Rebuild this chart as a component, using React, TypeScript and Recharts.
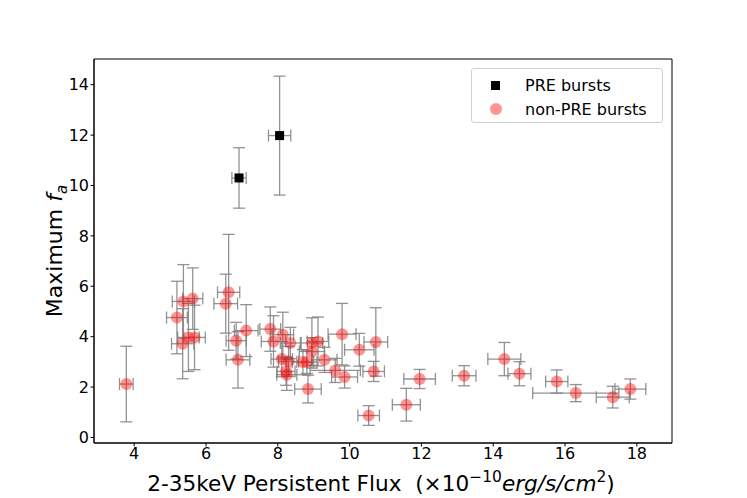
import React from 'react'
import {
  ScatterChart, Scatter, XAxis, YAxis, ErrorBar, ReferenceArea, Label,
} from 'recharts'

// non-PRE bursts
const nonPreFlux = [
  3.78, 5.19, 5.37, 5.63, 5.35, 5.51, 5.68, 6.63, 6.55, 6.84, 6.89, 7.12,
  7.79, 7.88, 8.14, 8.35, 8.11, 8.30, 8.23, 8.25, 8.70, 8.81, 8.84, 8.95,
  8.95, 9.12, 9.30, 9.60, 9.86, 9.79, 10.27, 10.73, 10.67, 10.53, 11.58,
  11.95, 13.19, 14.31, 14.73, 15.77, 16.30, 17.33, 17.82,
]
const nonPreFa = [
  2.12, 4.76, 5.40, 5.51, 3.72, 3.97, 3.97, 5.76, 5.31, 3.84, 3.08, 4.24,
  4.30, 3.81, 4.08, 3.75, 3.11, 3.02, 2.62, 2.49, 2.99, 2.99, 1.92, 3.41,
  3.75, 3.81, 3.08, 2.66, 2.40, 4.10, 3.48, 3.79, 2.62, 0.87, 1.30,
  2.32, 2.45, 3.11, 2.53, 2.22, 1.76, 1.60, 1.92,
]
const nonPreFluxErr = [
  0.19, 0.29, 0.31, 0.28, 0.31, 0.30, 0.30, 0.31, 0.33, 0.28, 0.33, 0.33,
  0.29, 0.34, 0.30, 0.28, 0.30, 0.28, 0.25, 0.28, 0.30, 0.28, 0.37, 0.35,
  0.30, 0.30, 0.35, 0.70, 0.36, 0.39, 0.41, 0.33, 0.30, 0.30, 0.39,
  0.44, 0.33, 0.46, 0.32, 0.31, 1.20, 0.46, 0.43,
]
const nonPreFaErr = [
  1.50, 1.44, 1.46, 1.22, 1.39, 1.35, 1.28, 2.30, 1.17, 0.73, 1.12, 1.03,
  0.88, 1.02, 0.89, 0.62, 0.70, 0.60, 0.55, 0.62, 0.50, 0.45, 0.55, 0.55,
  1.00, 0.97, 0.50, 0.48, 0.44, 1.22, 0.65, 1.36, 0.40, 0.39, 0.65,
  0.38, 0.40, 0.66, 0.48, 0.46, 0.34, 0.43, 0.40,
]

// PRE bursts
const preFlux = [6.92, 8.05]
const preFa = [10.30, 11.98]
const preFluxErr = [0.20, 0.31]
const preFaErr = [1.20, 2.36]

const xTicks = [4, 6, 8, 10, 12, 14, 16, 18]
const yTicks = [0, 2, 4, 6, 8, 10, 12, 14]

const nonPre = nonPreFlux.map((x, i) => ({
  x, y: nonPreFa[i], ex: nonPreFluxErr[i], ey: nonPreFaErr[i],
}))
const pre = preFlux.map((x, i) => ({
  x, y: preFa[i], ex: preFluxErr[i], ey: preFaErr[i],
}))

const FONT = 'DejaVu Sans, sans-serif'
const BAR = { stroke: '#808080', strokeWidth: 1.3, strokeOpacity: 0.85 }
const PINK = 'rgba(255,0,0,0.42)'

const Dot = (p: any) => (
  <circle cx={p.cx} cy={p.cy} r={6} fill={PINK} />
)
const Sq = (p: any) => (
  <rect x={p.cx - 4.5} y={p.cy - 4.5} width={9} height={9} fill="#000" />
)
const Nothing = () => <g />

function LegendBox() {
  const row = { display: 'flex', alignItems: 'center', height: 24 }
  return (
    <div style={{
      position: 'absolute', left: 471, top: 68,
      width: 192, height: 55, border: '1px solid #d0d0d0', borderRadius: 3,
      background: 'rgba(255,255,255,0.8)', fontFamily: FONT, fontSize: 16,
      boxSizing: 'border-box', padding: '4px 0 0 0',
    }}>
      <div style={row}>
        <div style={{ width: 9, height: 9, background: '#000', marginLeft: 19, marginRight: 25 }} />
        <span>PRE bursts</span>
      </div>
      <div style={row}>
        <div style={{
          width: 12, height: 12, borderRadius: 6, background: PINK,
          marginLeft: 17.5, marginRight: 23.5,
        }} />
        <span>non-PRE bursts</span>
      </div>
    </div>
  )
}

const XLabel = () => (
  <text x={381} y={491} textAnchor="middle" fontFamily={FONT} fontSize={21.6}
    fill="#000" style={{ whiteSpace: 'pre' }}>
    2-35keV Persistent Flux  (×10
    <tspan dy={-9} fontSize={15.5}>−10</tspan>
    <tspan dy={9} fontStyle="italic">erg/s/cm</tspan>
    <tspan dy={-9} fontSize={15.5}>2</tspan>
    <tspan dy={9}>)</tspan>
  </text>
)

const YLabel = () => (
  <text transform="translate(62,251) rotate(-90)" x={0} y={0} textAnchor="middle"
    fontFamily={FONT} fontSize={22} fill="#000">
    Maximum <tspan fontStyle="italic">f</tspan>
    <tspan dy={5} fontSize={15} fontStyle="italic">a</tspan>
  </text>
)

export default function App() {
  return (
    <div style={{ position: 'absolute', left: 0, top: 0, width: 747, height: 498, background: '#fff' }}>
      <ScatterChart width={747} height={498}
        margin={{ top: 59, right: 75, bottom: 0, left: 0 }}>
        <XAxis type="number" dataKey="x" domain={[2.88, 18.98]} allowDataOverflow
          ticks={xTicks} height={55} tickSize={3.5} tickMargin={1.5}
          stroke="#000" tick={{ fill: '#000', fontSize: 16, fontFamily: FONT }}>
          <Label content={XLabel} />
        </XAxis>
        <YAxis type="number" dataKey="y" domain={[-0.22, 15.02]} allowDataOverflow
          ticks={yTicks} width={94} tickSize={3.5} tickMargin={1.5}
          stroke="#000" tick={{ fill: '#000', fontSize: 16, fontFamily: FONT }}>
          <Label content={YLabel} />
        </YAxis>
        <ReferenceArea x1={2.88} x2={18.98} y1={-0.22} y2={15.02}
          fill="none" stroke="#000" strokeWidth={1} ifOverflow="visible" />
        <Scatter name="PRE bursts" data={pre} shape={Sq} isAnimationActive={false} />
        <Scatter name="non-PRE bursts" data={nonPre} shape={Dot} isAnimationActive={false} />
        <Scatter data={nonPre} shape={Nothing} isAnimationActive={false} legendType="none">
          <ErrorBar dataKey="ex" direction="x" width={6} {...BAR} isAnimationActive={false} />
          <ErrorBar dataKey="ey" direction="y" width={6} {...BAR} isAnimationActive={false} />
        </Scatter>
        <Scatter data={pre} shape={Nothing} isAnimationActive={false} legendType="none">
          <ErrorBar dataKey="ex" direction="x" width={6} {...BAR} isAnimationActive={false} />
          <ErrorBar dataKey="ey" direction="y" width={6} {...BAR} isAnimationActive={false} />
        </Scatter>
      </ScatterChart>
      <LegendBox />
    </div>
  )
}
